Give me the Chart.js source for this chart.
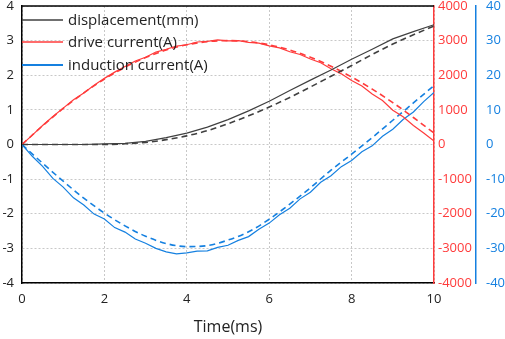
<!DOCTYPE html>
<html>
<head>
<meta charset="utf-8">
<script src="https://cdn.jsdelivr.net/npm/chart.js@4.4.1/dist/chart.umd.min.js"></script>
<style>
  html, body { margin: 0; padding: 0; background: #fff; }
  #wrap { width: 505px; height: 339px; position: relative; }
</style>
</head>
<body>
<div id="wrap"><canvas id="chart"></canvas></div>
<script>
// time axes (ms)
const timeFine = [0, 0.25, 0.5, 0.75, 1, 1.25, 1.5, 1.75, 2, 2.25, 2.5, 2.75, 3, 3.25, 3.5, 3.75, 4, 4.25, 4.5, 4.75, 5,
  5.25, 5.5, 5.75, 6, 6.25, 6.5, 6.75, 7, 7.25, 7.5, 7.75, 8, 8.25, 8.5, 8.75, 9, 9.25, 9.5, 9.75, 10]
const timeCoarse = [0, 0.5, 1, 1.5, 2, 2.5, 3, 3.5, 4, 4.5, 5, 5.5, 6, 6.5, 7, 7.5, 8, 8.5, 9, 9.5, 10]

// displacement (mm), left axis
const dispMeasured = [0, 0, 0, 0, 0.02, 0.03, 0.09, 0.2, 0.33, 0.5, 0.72, 0.97, 1.25, 1.56, 1.86, 2.15, 2.46, 2.75, 3.05, 3.26, 3.46]
const dispSimulated = [0, 0, 0, 0, 0, 0.02, 0.06, 0.14, 0.25, 0.4, 0.6, 0.83, 1.08, 1.36, 1.66, 1.97, 2.28, 2.6, 2.9, 3.17, 3.42]

// drive current (A), red axis
const driveMeasured = [0, 270, 550, 810, 1050, 1290, 1490, 1710, 1910, 2090, 2250, 2410, 2520, 2670, 2750, 2840, 2880, 2960, 2980, 3020, 2990,
  3000, 2950, 2930, 2850, 2790, 2680, 2600, 2470, 2360, 2190, 2040, 1850, 1690, 1460, 1270, 990, 800, 550, 330, 100]
const driveSimulated = [0, 540, 1040, 1490, 1890, 2230, 2510, 2730, 2880, 2970, 3000, 2970, 2880, 2730, 2520, 2260, 1950, 1600, 1210, 780, 330]

// induction current (A), blue axis
const inducMeasured = [0, -3.4, -6.3, -9.8, -12.3, -15.4, -17.5, -20.1, -21.5, -24.0, -25.3, -27.3, -28.5, -30.0, -31.0, -31.6, -31.3, -30.8, -30.7, -29.7, -29.1,
  -27.7, -26.6, -24.5, -22.7, -20.3, -18.4, -15.7, -13.8, -10.9, -9.0, -6.4, -4.6, -2.1, -0.4, 2.4, 4.4, 7.2, 9.4, 12.4, 15.0]
const inducSimulated = [0, -5.4, -10.6, -15.5, -19.8, -23.5, -26.5, -28.6, -29.5, -29.2, -27.6, -25.2, -21.6, -17.2, -12.5, -7.4, -2.8, 2.0, 7.0, 12.0, 17.0]

const legendLabels = ['displacement(mm)', 'drive current(A)', 'induction current(A)']

const GRAY = '#404040'
const RED = '#ff3b3b'
const BLUE = '#1580e0'
const FONT = 'Open Sans'

const pts = (xs, ys) => ys.map((y, i) => ({ x: xs[i], y }))

const solid = (data, color, axis) => ({
  data, borderColor: color, borderWidth: 1.2, yAxisID: axis, pointRadius: 0, tension: 0, fill: false,
})
const dashed = (data, color, axis) => ({
  data, borderColor: color, borderWidth: 1.6, borderDash: [6, 4], yAxisID: axis, pointRadius: 0,
  tension: 0.4, cubicInterpolationMode: 'monotone', fill: false,
})

// top frame line + legend inside plot
const framePlugin = {
  id: 'frame',
  afterDraw(chart) {
    const { ctx, chartArea: a } = chart
    ctx.save()
    ctx.strokeStyle = '#000'
    ctx.lineWidth = 1.5
    ctx.beginPath()
    ctx.moveTo(a.left, a.top)
    ctx.lineTo(a.right, a.top)
    ctx.stroke()

    const colors = [GRAY, RED, BLUE]
    const rows = [20, 42, 65]
    ctx.font = '15px "' + FONT + '"'
    ctx.textBaseline = 'middle'
    ctx.fillStyle = '#222'
    legendLabels.forEach((lbl, i) => {
      ctx.strokeStyle = colors[i]
      ctx.lineWidth = i === 2 ? 2 : 1.5
      ctx.beginPath()
      ctx.moveTo(a.left, rows[i])
      ctx.lineTo(a.left + 41, rows[i])
      ctx.stroke()
      ctx.fillText(lbl, a.left + 46, rows[i] + 1)
    })
    ctx.restore()
  },
}

const tickFont = { family: FONT, size: 13 }
const plain = (v) => String(v)
const noPad = (s) => { s.paddingTop = 0; s.paddingBottom = 0 }

new Chart(document.getElementById('chart').getContext('2d'), {
  type: 'line',
  data: {
    datasets: [
      solid(pts(timeCoarse, dispMeasured), GRAY, 'y'),
      dashed(pts(timeCoarse, dispSimulated), GRAY, 'y'),
      solid(pts(timeFine, driveMeasured), RED, 'y1'),
      dashed(pts(timeCoarse, driveSimulated), RED, 'y1'),
      solid(pts(timeFine, inducMeasured), BLUE, 'y2'),
      dashed(pts(timeCoarse, inducSimulated), BLUE, 'y2'),
    ],
  },
  options: {
    responsive: true,
    maintainAspectRatio: false,
    animation: false,
    layout: { padding: { top: 6, left: 0, right: 0, bottom: 0 } },
    plugins: { legend: { display: false }, tooltip: { enabled: false } },
    scales: {
      x: {
        type: 'linear', min: 0, max: 10,
        ticks: { stepSize: 2, color: '#222', font: tickFont, padding: 8, maxRotation: 0, callback: plain },
        grid: { color: '#c8c8c8', drawTicks: false, lineWidth: 1 },
        border: { color: '#000', width: 1.5, dash: [2, 2] },
        title: { display: true, text: 'Time(ms)', color: '#222', font: { family: FONT, size: 16 }, padding: { top: 4, bottom: 2 } },
        afterFit: (s) => { s.height = 56; s.paddingLeft = 0; s.paddingRight = 0 },
      },
      y: {
        position: 'left', min: -4, max: 4,
        ticks: { stepSize: 1, color: '#222', font: tickFont, padding: 8, callback: plain },
        grid: { color: '#c8c8c8', drawTicks: false },
        border: { color: '#000', width: 1.5, dash: [2, 2] },
        afterFit: (s) => { s.width = 22; noPad(s) },
      },
      y1: {
        position: 'right', min: -4000, max: 4000,
        ticks: { stepSize: 1000, color: RED, font: tickFont, padding: 4, callback: plain },
        grid: { display: false, drawTicks: false },
        border: { color: RED, width: 1.5 },
        afterFit: (s) => { s.width = 42; noPad(s) },
      },
      y2: {
        position: 'right', min: -40, max: 40,
        ticks: { stepSize: 10, color: BLUE, font: tickFont, padding: 10, callback: plain },
        grid: { display: false, drawTicks: false },
        border: { color: BLUE, width: 1.5 },
        afterFit: (s) => { s.width = 29; noPad(s) },
      },
    },
  },
  plugins: [framePlugin],
})
</script>
</body>
</html>
